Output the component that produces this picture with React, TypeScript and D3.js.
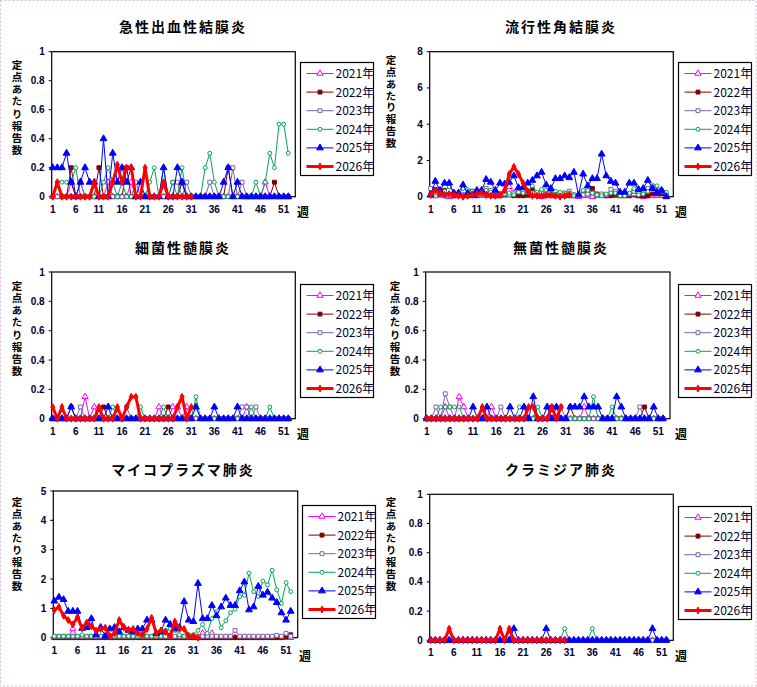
import React, { useEffect, useRef } from 'react';
import * as d3 from 'd3';

const YEARS = ['2021年', '2022年', '2023年', '2024年', '2025年', '2026年'];
const WEEK_TICKS = [1, 6, 11, 16, 21, 26, 31, 36, 41, 46, 51];
const Y_LABEL = '定点あたり報告数';

// zero-filled week series with the non-zero weeks
const weeks = (n: number, pairs: [number, number][]) => {
  const a: number[] = new Array(n).fill(0);
  pairs.forEach(([w, v]) => { a[w - 1] = v; });
  return a;
};

// 急性出血性結膜炎
const ahc: number[][] = [
  weeks(52, [[5, 0.1], [7, 0.1], [13, 0.1], [18, 0.1], [29, 0.1], [47, 0.1]]),
  weeks(52, [[5, 0.2], [11, 0.2], [17, 0.2], [29, 0.1], [39, 0.2], [49, 0.1]]),
  weeks(52, [[7, 0.1], [19, 0.1], [27, 0.1], [28, 0.1], [30, 0.1], [35, 0.1], [40, 0.2], [42, 0.1]]),
  weeks(52, [[2, 0.1], [3, 0.1], [4, 0.1], [5, 0.1], [6, 0.2], [12, 0.1], [13, 0.2], [14, 0.1], [16, 0.1], [22, 0.1], [23, 0.2], [25, 0.2], [27, 0.1], [29, 0.2], [34, 0.2], [35, 0.3], [36, 0.1], [45, 0.1], [47, 0.1], [48, 0.3], [49, 0.2], [50, 0.5], [51, 0.5], [52, 0.3]]),
  [0.2, 0.2, 0.2, 0.3, 0.1, 0, 0.1, 0.2, 0.1, 0.1, 0, 0.4, 0, 0.3, 0.1, 0.2, 0.1, 0.2, 0, 0.1,
    0, 0, 0, 0, 0.2, 0, 0, 0.2, 0.1, 0, 0, 0, 0, 0, 0, 0, 0, 0.1, 0.2, 0,
    0.1, 0, 0, 0, 0, 0, 0, 0, 0, 0, 0, 0],
  [0, 0.1, 0, 0, 0, 0, 0, 0, 0, 0.1, 0, 0, 0, 0.1, 0.22, 0.1, 0.2, 0.2, 0, 0,
    0.2, 0, 0, 0, 0.1, 0, 0, 0, 0, 0, 0],
];

// 流行性角結膜炎
const ekc: number[][] = [
  [0.1, 0.05, 0.1, 0.05, 0, 0.05, 0.05, 0.05, 0.1, 0.05, 0.05, 0.1, 0.05, 0.1, 0.05, 0.1, 0.25, 0.55, 0.2, 0.1,
    0.1, 0.05, 0.1, 0.05, 0, 0.05, 0.05, 0.05, 0.1, 0.05, 0.05, 0.05, 0, 0.05, 0.05, 0, 0.05, 0.05, 0.05, 0.1,
    0.05, 0.05, 0.05, 0.1, 0.15, 0.05, 0, 0.05, 0.05, 0.05, 0.05, 0],
  [0.1, 0.4, 0.15, 0.35, 0.1, 0.05, 0.1, 0.05, 0.05, 0.3, 0.05, 0.1, 0.15, 0.1, 0.05, 0.05, 0.1, 0.15, 0.05, 0.05,
    0.05, 0.1, 0.4, 0.1, 0.05, 0.1, 0.1, 0.05, 0.05, 0.05, 0.1, 0.05, 0.05, 0.25, 0.15, 0.45, 0.15, 0.1, 0.05, 0.05,
    0.1, 0.05, 0.05, 0.05, 0.3, 0.05, 0.05, 0.05, 0.15, 0.15, 0.15, 0.05],
  [0.45, 0.05, 0.3, 0.05, 0.05, 0.15, 0.1, 0.1, 0.15, 0.1, 0.1, 0.1, 0.45, 0.35, 0.25, 0.1, 0.15, 0.1, 0.2, 0.3,
    0.35, 0.25, 0.2, 0.15, 0.2, 0.2, 0.2, 0.15, 0.15, 0.2, 0.3, 0.1, 0.05, 0.1, 0.15, 0.2, 0.1, 0.15, 0.1, 0.4,
    0.3, 0.1, 0.1, 0.15, 0.3, 0.2, 0.35, 0.45, 0.6, 0.4, 0.3, 0.1],
  [0.15, 0.2, 0.25, 0.3, 0.55, 0.25, 0.1, 0.45, 0.4, 0.3, 0.3, 0.2, 0.35, 0.25, 0.25, 0.15, 0.15, 0.2, 0.1, 0.25,
    0.2, 0.25, 0.6, 0.25, 0.4, 0.35, 0.2, 0.3, 0.25, 0.2, 0.2, 0.05, 0.05, 0.35, 0.35, 0.2, 0.1, 0.05, 0.15, 0.2,
    0.2, 0.05, 0.05, 0.2, 0.45, 0.1, 0.15, 0.3, 0.55, 0.6, 0.35, 0.25],
  [0.1, 0.85, 0.35, 0.75, 0.75, 0.2, 0.2, 0.65, 0.2, 0.1, 0.35, 0.35, 0.95, 0.8, 0.35, 0.75, 0.7, 0.8, 1.15, 0.5,
    0.5, 0.75, 0.9, 1.15, 1.35, 0.65, 0.45, 1.0, 1.0, 1.15, 1.05, 1.35, 0.1, 1.25, 0.6, 1.0, 1.0, 2.35, 1.15, 0.85,
    0.75, 0.25, 0.25, 0.75, 0.75, 0.4, 0.45, 0.9, 0.45, 0.25, 0.35, 0],
  [0.1, 0.35, 0.2, 0.1, 0.15, 0.1, 0.05, 0, 0.05, 0.1, 0.15, 0.2, 0.1, 0.05, 0.05, 0.1, 0.35, 1.25, 1.65, 1.25,
    0.75, 0.3, 0.05, 0.05, 0.05, 0.1, 0.1, 0.05, 0, 0.05, 0.1],
];

// 細菌性髄膜炎
const bacterial: number[][] = [
  weeks(52, [[8, 0.15], [10, 0.08], [24, 0.08], [27, 0.08], [28, 0.08], [30, 0.08], [43, 0.08]]),
  weeks(52, [[5, 0.08], [12, 0.08], [26, 0.08]]),
  weeks(52, [[7, 0.08], [17, 0.08], [42, 0.08], [43, 0.08], [45, 0.08]]),
  weeks(52, [[14, 0.08], [20, 0.08], [25, 0.08], [32, 0.15], [44, 0.08], [48, 0.08]]),
  weeks(52, [[5, 0.08], [13, 0.08], [32, 0.08], [36, 0.08], [41, 0.08]]),
  [0.08, 0, 0.08, 0, 0, 0, 0, 0, 0, 0, 0.08, 0, 0, 0, 0.08, 0, 0.08, 0.15, 0.15, 0,
    0, 0, 0, 0, 0, 0, 0, 0.08, 0.15, 0, 0.08],
];

// 無菌性髄膜炎
const aseptic: number[][] = [
  weeks(52, [[5, 0.08], [8, 0.15], [9, 0.08], [15, 0.08], [35, 0.08]]),
  weeks(52, [[28, 0.08], [32, 0.08], [48, 0.08]]),
  weeks(52, [[3, 0.08], [5, 0.17], [6, 0.08], [17, 0.08], [30, 0.08], [47, 0.08]]),
  weeks(52, [[4, 0.08], [5, 0.08], [6, 0.08], [7, 0.08], [8, 0.08], [21, 0.08], [22, 0.08], [25, 0.08], [37, 0.15], [41, 0.08]]),
  weeks(52, [[11, 0.08], [14, 0.08], [19, 0.08], [22, 0.08], [24, 0.15], [27, 0.08], [29, 0.08], [32, 0.08], [33, 0.08], [34, 0.08], [35, 0.15], [36, 0.08], [37, 0.08], [38, 0.08], [42, 0.15], [43, 0.08], [50, 0.08]]),
  weeks(30, [[13, 0.08], [23, 0.08], [24, 0.08], [28, 0.08], [30, 0.08]]),
];

// マイコプラズマ肺炎
const mycoplasma: number[][] = [
  weeks(52, [[5, 0.3], [33, 0.15], [35, 0.15]]),
  weeks(52, [[51, 0.03], [52, 0.1]]),
  [0.05, 0.05, 0.05, 0.05, 0.05, 0.05, 0.05, 0.05, 0.05, 0.05, 0.05, 0.05, 0.05, 0.05, 0.05, 0.05, 0.05, 0.05, 0.05, 0.05,
    0.05, 0.05, 0.05, 0.05, 0.05, 0.05, 0.05, 0.05, 0.05, 0.05, 0.05, 0.05, 0.05, 0.05, 0.05, 0.05, 0.05, 0.05, 0.05, 0.25,
    0.05, 0.05, 0.05, 0.05, 0.05, 0.05, 0.05, 0.05, 0.08, 0.05, 0.15, 0.05],
  [0.05, 0.05, 0.05, 0.05, 0.05, 0.05, 0.1, 0.05, 0.05, 0.05, 0.05, 0.05, 0.05, 0.05, 0.05, 0.05, 0.05, 0.05, 0.05, 0.05,
    0.05, 0.05, 0.05, 0.05, 0.25, 0.3, 0.25, 0.1, 0.05, 0.1, 0.1, 0.25, 0.45, 0.15, 0.65, 0.88, 0.34, 0.58, 0.85, 0.97,
    1.4, 1.45, 2.2, 1.57, 1.4, 1.93, 1.8, 2.3, 1.63, 1.17, 1.88, 1.57],
  [1.25, 1.38, 1.3, 0.9, 0.9, 0.9, 0.32, 0.35, 0.65, 0.1, 0.35, 0.05, 0.3, 0.35, 0.2, 0.35, 0.25, 0.2, 0.3, 0.3,
    0.6, 0.6, 0.15, 0.2, 0.6, 0.45, 0.3, 0.35, 1.23, 0.6, 0.55, 1.85, 0.65, 0.65, 1.1, 0.75, 1.05, 1.35, 1.1, 1.1,
    1.6, 1.9, 0.95, 1.05, 1.75, 1.45, 1.55, 1.35, 1.2, 0.85, 0.6, 0.9],
  [0.94, 1.05, 0.75, 0.6, 0.45, 0.7, 0.32, 0.52, 0.4, 0.24, 0.3, 0.34, 0.05, 0.15, 0.6, 0.34, 0.26, 0.3, 0.15, 0.1,
    0.3, 0.68, 0.15, 0.25, 0.2, 0.05, 0.55, 0.3, 0.3, 0.05, 0.05, 0],
];

// クラミジア肺炎
const chlamydia: number[][] = [
  weeks(52, []),
  weeks(52, []),
  weeks(52, []),
  weeks(52, [[30, 0.08], [36, 0.08]]),
  weeks(52, [[19, 0.08], [26, 0.08], [49, 0.08]]),
  weeks(30, [[5, 0.08], [16, 0.08], [18, 0.08]]),
];

const SERIES_STYLE = [
  { color: '#ff00ff', width: 1, symbol: d3.symbolTriangle, size: 17, fill: '#ffffff' },
  { color: '#800000', width: 1, symbol: d3.symbolSquare, size: 15, fill: '#800000' },
  { color: '#7e62a8', width: 1, symbol: d3.symbolSquare, size: 15, fill: '#ffffff' },
  { color: '#00a651', width: 1, symbol: d3.symbolCircle, size: 12, fill: '#ffffff' },
  { color: '#0000ff', width: 1, symbol: d3.symbolTriangle, size: 20, fill: '#0000ff' },
  { color: '#ff0000', width: 3, symbol: d3.symbolDiamond, size: 14, fill: '#ff0000' },
];

// layout of the six panels (pixel positions)
const PANELS = [
  { title: '急性出血性結膜炎', data: ahc, yMax: 1, yStep: 0.2, x0: 51.7, y0: 51.7, x1: 295.3, y1: 196.7, cx: 183, ty: 32, lx: 300.5, ly: 62.5, labX: 17, labTop: 65, labBot: 150, wx: 303, wy: 217 },
  { title: '流行性角結膜炎', data: ekc, yMax: 8, yStep: 2, x0: 429.7, y0: 51.7, x1: 673.3, y1: 196.7, cx: 561, ty: 32, lx: 678.5, ly: 62.5, labX: 391, labTop: 60, labBot: 143, wx: 681, wy: 217 },
  { title: '細菌性髄膜炎', data: bacterial, yMax: 1, yStep: 0.2, x0: 51.7, y0: 272, x1: 295.3, y1: 418.7, cx: 183, ty: 253, lx: 300.5, ly: 284.5, labX: 17, labTop: 286, labBot: 371, wx: 303, wy: 439 },
  { title: '無菌性髄膜炎', data: aseptic, yMax: 1, yStep: 0.2, x0: 425.7, y0: 272, x1: 670, y1: 418.7, cx: 561, ty: 253, lx: 678.5, ly: 284.5, labX: 395, labTop: 286, labBot: 371, wx: 681, wy: 439 },
  { title: 'マイコプラズマ肺炎', data: mycoplasma, yMax: 5, yStep: 1, x0: 53.3, y0: 491, x1: 297.7, y1: 637.7, cx: 183, ty: 475, lx: 302.5, ly: 505.5, labX: 17, labTop: 502, labBot: 586, wx: 305, wy: 661 },
  { title: 'クラミジア肺炎', data: chlamydia, yMax: 1, yStep: 0.2, x0: 429.7, y0: 494.3, x1: 673.3, y1: 640.3, cx: 561, ty: 475, lx: 678.5, ly: 506.5, labX: 391, labTop: 502, labBot: 586, wx: 681, wy: 661 },
];

const W = 757;
const H = 687;
const TICK_COLOR = '#000033';
const NUM_FONT = "'Liberation Sans', Arial, sans-serif";
const JP_FONT = "'Noto Sans CJK JP', sans-serif";
const NARROW_FONT = "'Liberation Sans Narrow', 'Arial Narrow', 'Noto Sans CJK JP', sans-serif";

const App: React.FC = () => {
  const svgRef = useRef<SVGSVGElement>(null);

  useEffect(() => {
    if (!svgRef.current) return;
    const svg = d3.select(svgRef.current);
    svg.selectAll('*').remove();

    svg.append('rect').attr('width', W).attr('height', H).attr('fill', '#ffffff');
    svg.append('rect')
      .attr('x', 0.5).attr('y', 0.5).attr('width', W - 1.5).attr('height', H - 1.5)
      .attr('fill', 'none').attr('stroke', '#d4bcd4').attr('stroke-dasharray', '2,2');

    PANELS.forEach(p => {
      const g = svg.append('g');
      const x = d3.scaleLinear().domain([1, 52]).range([p.x0 + 1, p.x1 - 7]);
      const y = d3.scaleLinear().domain([0, p.yMax]).range([p.y1, p.y0]);

      // title
      g.append('text')
        .attr('x', p.cx).attr('y', p.ty)
        .attr('text-anchor', 'middle')
        .attr('font-family', JP_FONT).attr('font-weight', 'bold')
        .attr('font-size', 14).attr('letter-spacing', 2)
        .text(p.title);

      // plot frame
      g.append('rect')
        .attr('x', p.x0).attr('y', p.y0)
        .attr('width', p.x1 - p.x0).attr('height', p.y1 - p.y0)
        .attr('fill', '#ffffff').attr('stroke', '#000').attr('stroke-width', 1.2);

      // y ticks
      const yTicks = d3.range(0, p.yMax + p.yStep / 2, p.yStep);
      yTicks.forEach(v => {
        g.append('line')
          .attr('x1', p.x0 - 3).attr('x2', p.x0)
          .attr('y1', y(v)).attr('y2', y(v))
          .attr('stroke', '#000');
        g.append('text')
          .attr('x', p.x0 - 7).attr('y', y(v) + 3.5)
          .attr('text-anchor', 'end')
          .attr('font-family', NUM_FONT).attr('font-weight', 'bold')
          .attr('font-size', 10).attr('fill', TICK_COLOR)
          .text(d3.format('~g')(+v.toFixed(2)));
      });

      // x tick labels
      WEEK_TICKS.forEach(w => {
        g.append('text')
          .attr('x', x(w)).attr('y', p.y1 + 16)
          .attr('text-anchor', 'middle')
          .attr('font-family', NUM_FONT).attr('font-weight', 'bold')
          .attr('font-size', 10).attr('fill', TICK_COLOR)
          .text(w);
      });

      // 週
      g.append('text')
        .attr('x', p.wx).attr('y', p.wy)
        .attr('text-anchor', 'middle')
        .attr('font-family', JP_FONT).attr('font-weight', 'bold')
        .attr('font-size', 12)
        .text('週');

      // vertical y label, written top to bottom
      const n = Array.from(Y_LABEL).length;
      const step = (p.labBot - p.labTop) / (n - 1);
      const fs = 10.5;
      g.append('text')
        .attr('x', p.labX).attr('y', p.labTop - fs / 2)
        .style('writing-mode', 'vertical-rl')
        .attr('font-family', JP_FONT).attr('font-weight', 'bold')
        .attr('font-size', fs)
        .attr('letter-spacing', step - fs)
        .text(Y_LABEL);

      // series
      p.data.forEach((vals, si) => {
        const st = SERIES_STYLE[si];
        const line = d3.line<number>()
          .x((_, i) => x(i + 1))
          .y(d => y(d));
        g.append('path')
          .attr('d', line(vals) || '')
          .attr('fill', 'none')
          .attr('stroke', st.color)
          .attr('stroke-width', st.width)
          .attr('stroke-linejoin', 'round');
        const sym = d3.symbol().type(st.symbol).size(st.size);
        g.selectAll(null)
          .data(vals)
          .enter().append('path')
          .attr('d', sym() || '')
          .attr('transform', (d, i) => `translate(${x(i + 1)},${y(d)})`)
          .attr('fill', st.fill)
          .attr('stroke', st.color)
          .attr('stroke-width', 1);
      });

      // legend
      const lg = g.append('g').attr('transform', `translate(${p.lx},${p.ly})`);
      lg.append('rect')
        .attr('width', 73).attr('height', 113)
        .attr('fill', '#ffffff').attr('stroke', '#000').attr('stroke-width', 1.2);
      YEARS.forEach((yr, i) => {
        const st = SERIES_STYLE[i];
        const cy = 11 + i * 18.6;
        lg.append('line')
          .attr('x1', 6).attr('x2', 33).attr('y1', cy).attr('y2', cy)
          .attr('stroke', st.color).attr('stroke-width', st.width);
        lg.append('path')
          .attr('d', d3.symbol().type(st.symbol).size(st.size)() || '')
          .attr('transform', `translate(19.5,${cy})`)
          .attr('fill', st.fill).attr('stroke', st.color);
        lg.append('text')
          .attr('x', 35).attr('y', cy + 4.5)
          .attr('font-family', NARROW_FONT)
          .attr('font-size', 12).attr('fill', TICK_COLOR)
          .text(yr);
      });
    });
  }, []);

  return (
    <svg
      ref={svgRef}
      width={W}
      height={H}
      style={{ position: 'absolute', left: 0, top: 0, display: 'block' }}
    />
  );
};

export default App;
